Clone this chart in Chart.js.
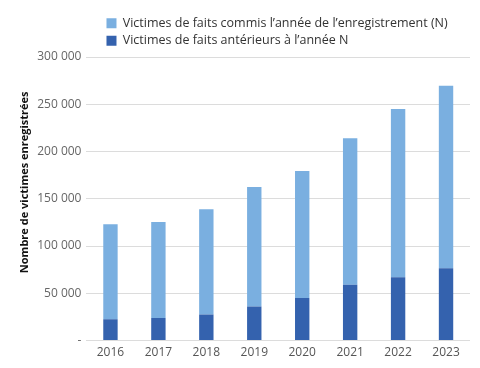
<!DOCTYPE html>
<html lang="fr">
<head>
<meta charset="utf-8">
<title>Victimes enregistrées</title>
<script src="https://cdn.jsdelivr.net/npm/chart.js@4/dist/chart.umd.min.js"></script>
<style>
  html, body { margin: 0; padding: 0; background: #fff; }
  #wrap { width: 480px; height: 368px; }
</style>
</head>
<body>
<div id="wrap"><canvas id="chart" width="480" height="368"></canvas></div>
<script>
const years = ['2016', '2017', '2018', '2019', '2020', '2021', '2022', '2023'];
// victimes de faits commis l'année N (partie claire)
const faitsAnnee = [100500, 101500, 111500, 126500, 134500, 155000, 178000, 193000];
// victimes de faits antérieurs (partie foncée, en bas)
const faitsAnterieurs = [22500, 24000, 27500, 36000, 45000, 59000, 67000, 76500];
const yTicks = [0, 50000, 100000, 150000, 200000, 250000, 300000];

const labelAnnee = 'Victimes de faits commis l\u2019année de l\u2019enregistrement (N)';
const labelAnterieurs = 'Victimes de faits antérieurs à l\u2019année N';

Chart.defaults.font.family = '"Open Sans", "Noto Sans", sans-serif';

function formatNombre(v) {
    if (v === 0) return '-';
    return String(v).replace(/\B(?=(\d{3})+(?!\d))/g, ' ');
}

// décale la légende pour l'aligner comme sur l'original
const legendShift = {
    id: 'legendShift',
    afterLayout(chart) {
        chart.legend.left += 15;
        chart.legend.right += 15;
    }
};

new Chart(document.getElementById('chart'), {
    type: 'bar',
    data: {
        labels: years,
        datasets: [
            {
                label: labelAnterieurs,
                data: faitsAnterieurs,
                backgroundColor: '#3462ae',
                barPercentage: 0.3,
                categoryPercentage: 1
            },
            {
                label: labelAnnee,
                data: faitsAnnee,
                backgroundColor: '#7aafe0',
                barPercentage: 0.3,
                categoryPercentage: 1
            }
        ]
    },
    options: {
        responsive: false,
        animation: false,
        layout: { padding: { left: 12, right: 10, top: 12, bottom: 3 } },
        plugins: {
            legend: {
                position: 'top',
                align: 'start',
                fullSize: false,
                reverse: true,
                labels: {
                    boxWidth: 10,
                    boxHeight: 10,
                    padding: 5,
                    color: '#333',
                    font: { size: 12.5 }
                }
            },
            tooltip: { enabled: false }
        },
        scales: {
            x: {
                stacked: true,
                grid: { display: false, drawTicks: false },
                border: { display: false },
                ticks: { color: '#555', font: { size: 12 }, padding: 5 }
            },
            y: {
                stacked: true,
                min: 0,
                max: 300000,
                afterBuildTicks: axis => { axis.ticks = yTicks.map(v => ({ value: v })); },
                grid: { color: '#dcdcdc', drawTicks: false },
                border: { display: false },
                ticks: {
                    color: '#666',
                    font: { size: 12 },
                    padding: 5,
                    callback: v => formatNombre(v)
                },
                title: {
                    display: true,
                    text: '\u2002\u2002\u2002\u2002\u2002\u2002Nombre de victimes enregistrées',
                    color: '#111',
                    font: { size: 11, weight: 'bold' },
                    padding: { top: 6, bottom: 1 }
                }
            }
        }
    },
    plugins: [legendShift]
});
</script>
</body>
</html>
